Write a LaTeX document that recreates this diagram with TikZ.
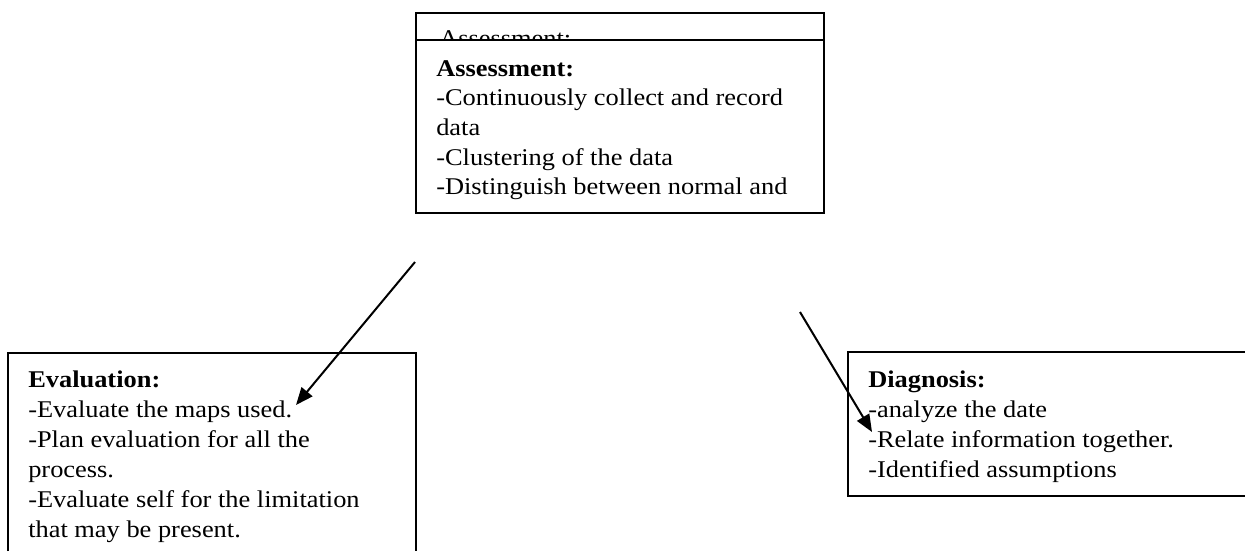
\documentclass[tikz,border=0pt]{standalone}
\usepackage{fontspec}
\setmainfont[FakeStretch=1.1]{Liberation Serif}
\usetikzlibrary{arrows.meta}
\tikzset{
  box/.style={line width=1.5pt},
  txt/.style={anchor=base west, inner sep=0pt, font=\fontsize{18}{22}\selectfont},
  head/.style={txt, font=\fontsize{18}{22}\selectfont\bfseries},
  link/.style={line width=1.5pt, -{Triangle[length=13pt,width=10.5pt]}}
}
\begin{document}
\begin{tikzpicture}[x=0.75pt,y=-0.75pt]
\useasboundingbox (0,0) rectangle (1245,551);

% Assessment box with its separator strip
\draw[box] (416,13) rectangle (824,213);
\draw[box] (416,40) -- (824,40);
\begin{scope}
  \clip (416,13) rectangle (824,40);
  \node[txt] (asclip) at (439,46) {Assessment:};
\end{scope}
\node[head] (as0) at (436,76) {Assessment:};
\foreach \t [count=\i] in {-Continuously collect and record, data, -Clustering of the data, -Distinguish between normal and}
  \node[txt] (as\i) at (436,76+29.7*\i) {\t};

% Evaluation box, open at the bottom
\draw[box] (8,551) -- (8,353) -- (416,353) -- (416,551);
\node[head] (ev0) at (28,387) {Evaluation:};
\foreach \t [count=\i] in {-Evaluate the maps used., -Plan evaluation for all the, process., -Evaluate self for the limitation, that may be present.}
  \node[txt] (ev\i) at (28,387+30*\i) {\t};

% Diagnosis box, open on the right
\draw[box] (1245,352) -- (848,352) -- (848,496) -- (1245,496);
\node[head] (dg0) at (868,387) {Diagnosis:};
\foreach \t [count=\i] in {-analyze the date, -Relate information together., -Identified assumptions}
  \node[txt] (dg\i) at (868,387+30.3*\i) {\t};

% Connectors
\coordinate (a1s) at (415,262);
\coordinate (a1e) at (296,405);
\coordinate (a2s) at (800,312);
\coordinate (a2e) at (872,432);
\draw[link] (a1s) -- (a1e);
\draw[link] (a2s) -- (a2e);
\end{tikzpicture}
\end{document}
